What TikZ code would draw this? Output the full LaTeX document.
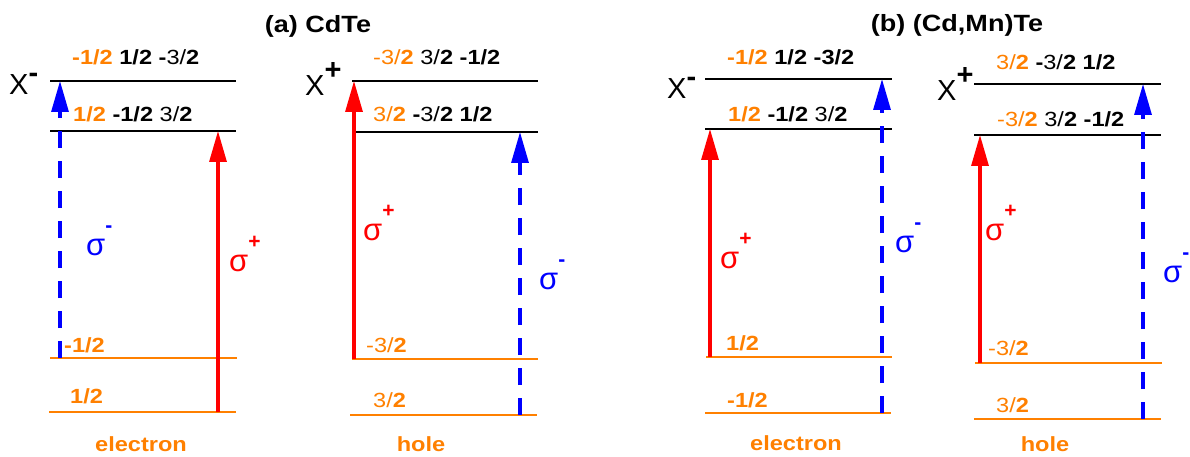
\documentclass[tikz,border=0pt]{standalone}
\usepackage{fontspec}
\setmainfont{Liberation Sans}
\usetikzlibrary{arrows.meta}
\definecolor{oc}{RGB}{255,128,0}
\newcommand\R[1]{{\mdseries #1}}
\newcommand\hs[1]{\scalebox{1.15}[1]{#1}}
\newcommand\sig[2]{\fontsize{31}{33}\selectfont σ\raisebox{23pt}{\fontsize{21}{22}\selectfont\bfseries #2}}
\tikzset{
  lev/.style={line width=2pt, black},
  olev/.style={line width=2pt, oc},
  tip/.style={-{Triangle[length=31pt,width=17pt]}},
  rarr/.style={tip, red, line width=3.2pt},
  barr/.style={tip, blue, line width=3.2pt, dash pattern=on 17pt off 13pt},
  txt/.style={inner sep=0pt, anchor=base west, font=\fontsize{20.5}{24}\selectfont\bfseries},
  otxt/.style={txt, text=oc},
  bottxt/.style={inner sep=0pt, anchor=base, text=oc, font=\fontsize{20.5}{24}\selectfont\bfseries},
  title/.style={inner sep=0pt, anchor=base, font=\fontsize{23.5}{26}\selectfont\bfseries},
  xlab/.style={inner sep=0pt, anchor=base west, font=\fontsize{29}{31}\selectfont},
  rsig/.style={inner sep=0pt, anchor=base west, text=red},
  bsig/.style={inner sep=0pt, anchor=base west, text=blue},
}
\begin{document}
\begin{tikzpicture}[x=1pt,y=-1pt]
\useasboundingbox (0,0) rectangle (1190,457);
% titles
\node[title] (ta) at (318,33) {\hs{(a) CdTe}};
\node[title] (tb) at (957,32) {\hs{(b) (Cd,Mn)Te}};

% ===== (a) X- =====
\draw[lev] (50,81) -- (236,81);
\draw[lev] (50,131) -- (236,131);
\draw[olev] (50,358) -- (237,358);
\draw[olev] (49,412) -- (236,412);
\node[xlab] (xa1) at (9,95) {X\raisebox{12pt}{\bfseries -}};
\node[txt] (la1) at (72,65) {\hs{\textcolor{oc}{-1/2} 1/2 -\R{3/}2}};
\node[txt] (la2) at (73,122) {\hs{\textcolor{oc}{1/2} -1/2 \R{3/}2}};
\node[otxt] (la3) at (64,352) {\hs{-1/2}};
\node[otxt] (la4) at (70,403) {\hs{1/2}};
\node[bottxt] (ea) at (141,451) {\hs{electron}};
\coordinate (a1s) at (60,358); \coordinate (a1e) at (60,81);
\coordinate (a2s) at (218,412); \coordinate (a2e) at (218,131);
\draw[barr] (a1s) -- (a1e);
\draw[rarr] (a2s) -- (a2e);
\node[bsig] (sa1) at (86,255) {\sig{}{-}};
\node[rsig] (sa2) at (229,271) {\sig{}{+}};

% ===== (a) X+ =====
\draw[lev] (352,81) -- (538,81);
\draw[lev] (352,132) -- (538,132);
\draw[olev] (352,359) -- (538,359);
\draw[olev] (350,415) -- (537,415);
\node[xlab] (xa2) at (305,96) {X\raisebox{16pt}{\bfseries +}};
\node[txt] (lb1) at (373,65) {\hs{\textcolor{oc}{\R{-3/}2} \R{3/}2 -1/2}};
\node[txt] (lb2) at (373,122) {\hs{\textcolor{oc}{\R{3/}2} -\R{3/}2 1/2}};
\node[otxt] (lb3) at (366,352) {\hs{\R{-3/}2}};
\node[otxt] (lb4) at (373,407) {\hs{\R{3/}2}};
\node[bottxt] (ha) at (421,451) {\hs{hole}};
\coordinate (b1s) at (354,359); \coordinate (b1e) at (354,81);
\coordinate (b2s) at (520,415); \coordinate (b2e) at (520,132);
\draw[rarr] (b1s) -- (b1e);
\draw[barr] (b2s) -- (b2e);
\node[rsig] (sb1) at (363,240) {\sig{}{+}};
\node[bsig] (sb2) at (539,289) {\sig{}{-}};

% ===== (b) X- =====
\draw[lev] (705,79) -- (892,79);
\draw[lev] (705,129) -- (892,129);
\draw[olev] (706,357) -- (892,357);
\draw[olev] (705,413) -- (891,413);
\node[xlab] (xb1) at (667,99) {X\raisebox{12pt}{\bfseries -}};
\node[txt] (lc1) at (727,65) {\hs{\textcolor{oc}{-1/2} 1/2 -3/2}};
\node[txt] (lc2) at (728,122) {\hs{\textcolor{oc}{1/2} -1/2 \R{3/}2}};
\node[otxt] (lc3) at (726,350) {\hs{1/2}};
\node[otxt] (lc4) at (727,407) {\hs{-1/2}};
\node[bottxt] (eb) at (796,450) {\hs{electron}};
\coordinate (c1s) at (710,357); \coordinate (c1e) at (710,129);
\coordinate (c2s) at (882,413); \coordinate (c2e) at (882,79);
\draw[rarr] (c1s) -- (c1e);
\draw[barr] (c2s) -- (c2e);
\node[rsig] (sc1) at (720,268) {\sig{}{+}};
\node[bsig] (sc2) at (895,252) {\sig{}{-}};

% ===== (b) X+ =====
\draw[lev] (974,84) -- (1161,84);
\draw[lev] (974,135) -- (1161,135);
\draw[olev] (975,363) -- (1162,363);
\draw[olev] (974,419) -- (1161,419);
\node[xlab] (xb2) at (937,101) {X\raisebox{16pt}{\bfseries +}};
\node[txt] (ld1) at (996,70) {\hs{\textcolor{oc}{\R{3/}2} -\R{3/}2 1/2}};
\node[txt] (ld2) at (997,127) {\hs{\textcolor{oc}{\R{-3/}2} \R{3/}2 -1/2}};
\node[otxt] (ld3) at (988,355) {\hs{\R{-3/}2}};
\node[otxt] (ld4) at (996,412) {\hs{\R{3/}2}};
\node[bottxt] (hb) at (1045,451) {\hs{hole}};
\coordinate (d1s) at (980,363); \coordinate (d1e) at (980,135);
\coordinate (d2s) at (1143,419); \coordinate (d2e) at (1143,84);
\draw[rarr] (d1s) -- (d1e);
\draw[barr] (d2s) -- (d2e);
\node[rsig] (sd1) at (985,240) {\sig{}{+}};
\node[bsig] (sd2) at (1163,282) {\sig{}{-}};
\end{tikzpicture}
\end{document}
